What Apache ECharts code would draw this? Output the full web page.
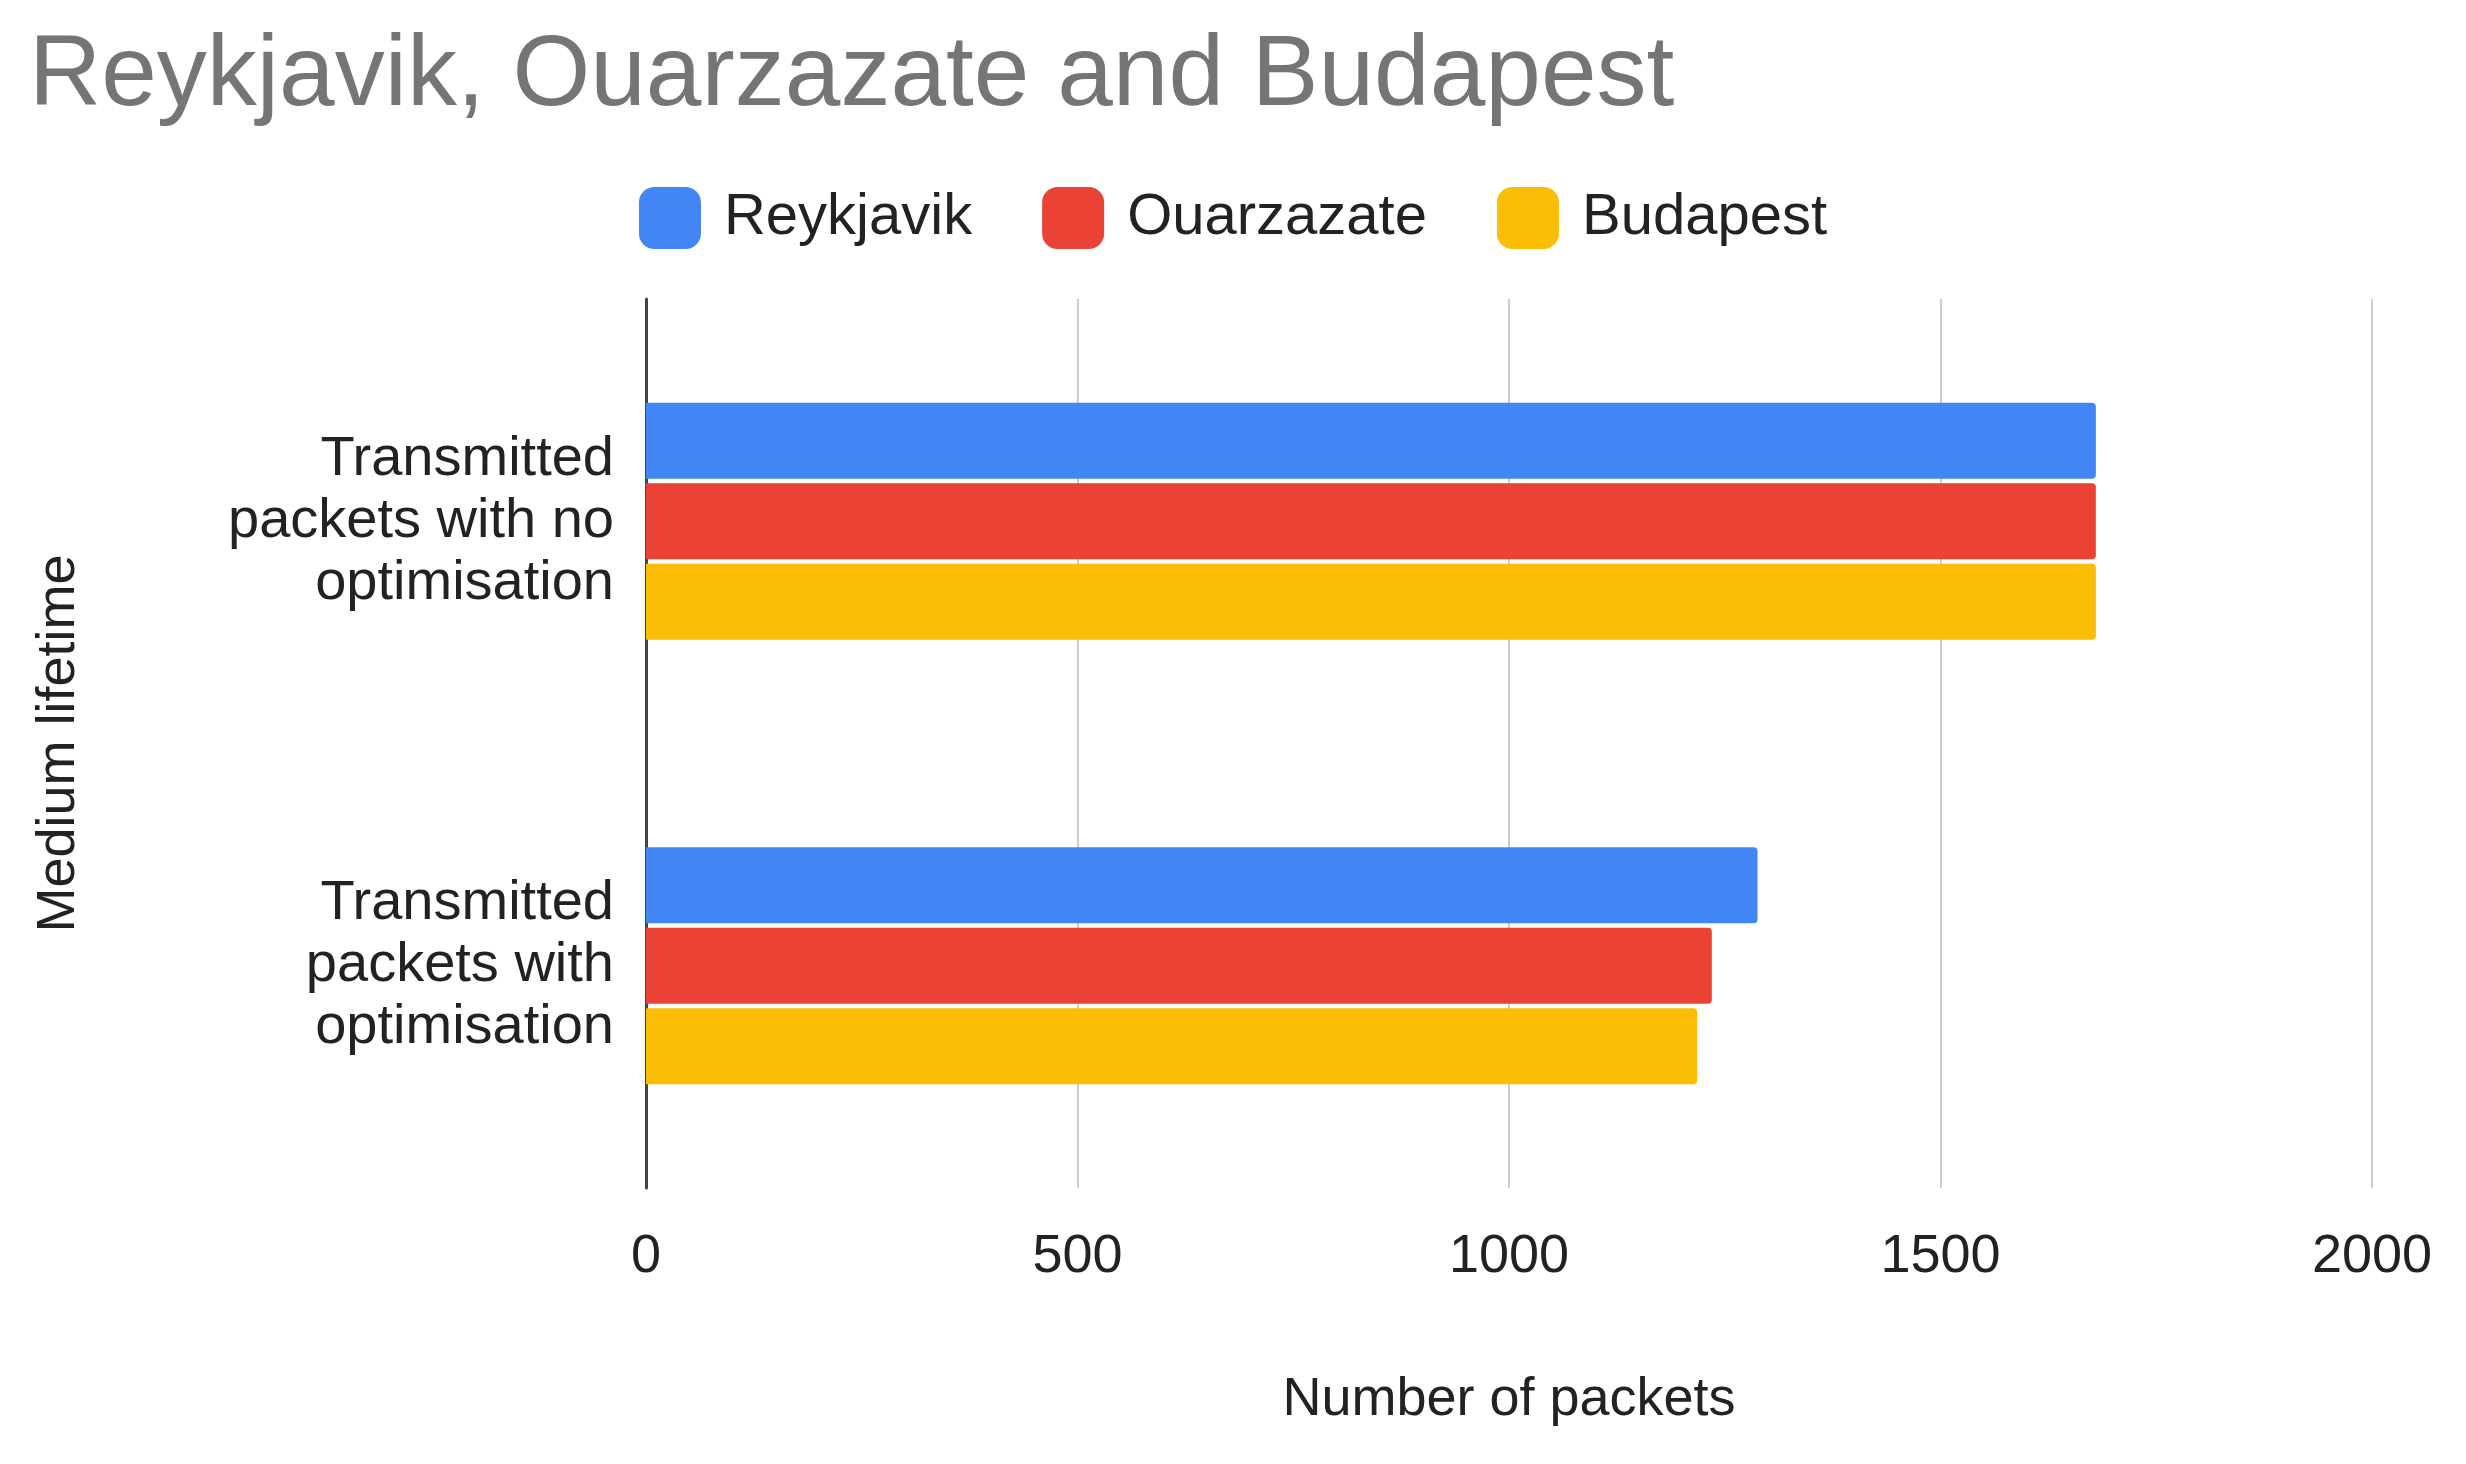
<!DOCTYPE html>
<html>
<head>
<meta charset="utf-8">
<script src="https://cdn.jsdelivr.net/npm/echarts@6/dist/echarts.min.js"></script>
<style>html,body{margin:0;padding:0;background:#fff}#chart{width:2466px;height:1464px}</style>
</head>
<body>
<div id="chart"></div>
<script>
const categories = ['Transmitted\npackets with no\noptimisation', 'Transmitted\npackets with\noptimisation'];
const reykjavik = [1680, 1288];
const ouarzazate = [1680, 1235];
const budapest = [1680, 1218];

let myChart = echarts.init(document.getElementById('chart'));
const font = 'Liberation Sans, Arial, sans-serif';
let option = {
    textStyle: { fontFamily: font },
    title: {
        text: 'Reykjavik, Ouarzazate and Budapest',
        left: 24, top: 22,
        textStyle: { color: '#757575', fontSize: 100, fontWeight: 'normal', fontFamily: font }
    },
    legend: {
        top: 182, left: 'center',
        itemWidth: 62, itemHeight: 62, itemGap: 70,
        icon: 'roundRect',
        textStyle: { fontSize: 58, color: '#222', padding: [0, 0, 0, 18] }
    },
    grid: { left: 646, right: 94, top: 299, bottom: 276 },
    xAxis: {
        type: 'value', min: 0, max: 2000, interval: 500,
        name: 'Number of packets', nameLocation: 'middle', nameGap: 185,
        nameTextStyle: { fontSize: 54, color: '#222' },
        axisLabel: { fontSize: 54, color: '#222', margin: 42, formatter: v => String(v) },
        axisLine: { show: false }, axisTick: { show: false },
        splitLine: { lineStyle: { color: '#cccccc', width: 2 } }
    },
    yAxis: {
        type: 'category', data: categories, inverse: true,
        name: 'Medium lifetime', nameLocation: 'middle', nameGap: 560,
        nameTextStyle: { fontSize: 54, color: '#222' },
        axisLabel: { fontSize: 56, color: '#222', lineHeight: 62, margin: 32 },
        axisLine: { lineStyle: { color: '#444', width: 3 } },
        axisTick: { show: false }
    },
    series: [
        { name: 'Reykjavik', type: 'bar', data: reykjavik, color: '#4285f4', barWidth: 76, barGap: '6%', itemStyle: { borderRadius: [0, 4, 4, 0] } },
        { name: 'Ouarzazate', type: 'bar', data: ouarzazate, color: '#ea4335', barWidth: 76, barGap: '6%', itemStyle: { borderRadius: [0, 4, 4, 0] } },
        { name: 'Budapest', type: 'bar', data: budapest, color: '#fbbc04', barWidth: 76, barGap: '6%', itemStyle: { borderRadius: [0, 4, 4, 0] } }
    ]
};
myChart.setOption(option);
</script>
</body>
</html>
